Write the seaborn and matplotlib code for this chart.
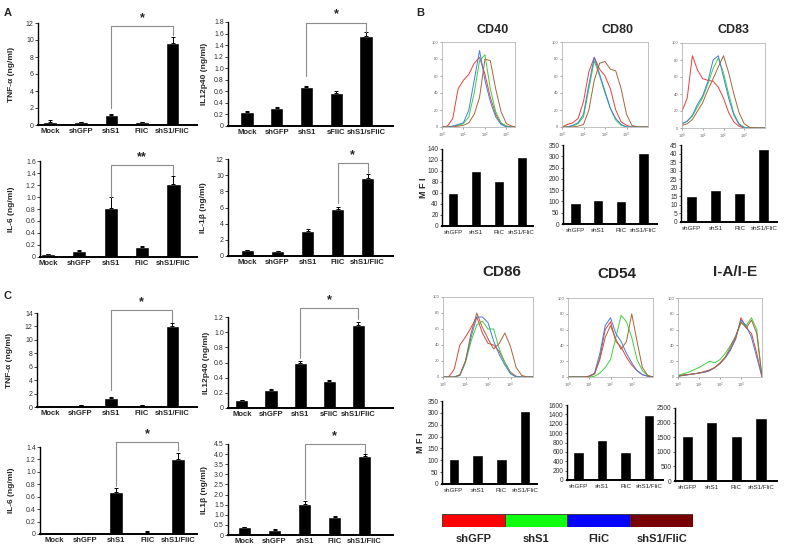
import numpy as np
import matplotlib
import matplotlib.pyplot as plt
import seaborn as sns

matplotlib.use('Agg')

# --- Figure size in pixels ---
W, H = 788, 549

# --- Cytokine bar data (panels A and C) ---
CYTO_CATS = ['Mock', 'shGFP', 'shS1', 'FliC', 'shS1/FliC']
CYTO_CATS_S = ['Mock', 'shGFP', 'shS1', 'sFliC', 'shS1/sFliC']
CYTO_CATS_C12 = ['Mock', 'shGFP', 'shS1', 'sFliC', 'shS1/FliC']

A_TNF = [0.3, 0.3, 1.2, 0.3, 9.7]
A_TNF_ERR = [0.3, 0.05, 0.1, 0.05, 0.7]
A_IL12 = [0.25, 0.32, 0.68, 0.57, 1.55]
A_IL12_ERR = [0.01, 0.01, 0.02, 0.03, 0.07]
A_IL6 = [0.05, 0.1, 0.82, 0.17, 1.22]
A_IL6_ERR = [0.005, 0.02, 0.18, 0.02, 0.13]
A_IL1B = [0.7, 0.6, 3.1, 5.8, 9.7]
A_IL1B_ERR = [0.02, 0.02, 0.2, 0.3, 0.4]

C_TNF = [0.2, 0.3, 1.4, 0.3, 12.1]
C_TNF_ERR = [0.02, 0.05, 0.1, 0.05, 0.4]
C_IL12 = [0.1, 0.24, 0.6, 0.35, 1.09]
C_IL12_ERR = [0.005, 0.01, 0.02, 0.02, 0.05]
C_IL6 = [0.02, 0.02, 0.67, 0.04, 1.2]
C_IL6_ERR = [0.002, 0.002, 0.07, 0.005, 0.1]
C_IL1B = [0.38, 0.25, 1.55, 0.9, 3.9]
C_IL1B_ERR = [0.01, 0.03, 0.12, 0.03, 0.1]

# --- MFI bar data (panel B) ---
MFI_CATS = ['shGFP', 'shS1', 'FliC', 'shS1/FliC']
CD40_MFI = [60, 100, 81, 125]
CD80_MFI = [95, 108, 100, 315]
CD83_MFI = [15, 18.5, 17, 42.5]
CD86_MFI = [105, 123, 107, 308]
CD54_MFI = [600, 860, 590, 1390]
IAIE_MFI = [1550, 2020, 1550, 2150]

# --- Flow histograms (% of max), read at log10 positions ---
X_DEC = [0, 0.25, 0.5, 0.75, 1.0, 1.25, 1.5, 1.75, 2.0, 2.25, 2.5, 2.75, 3.0, 3.25, 3.5, 3.75, 4.0]
# order of curves: shGFP (red), shS1 (green), FliC (blue), shS1/FliC (brown)
CD40_HIST = [
    [0, 1, 10, 45, 55, 62, 75, 82, 62, 35, 15, 4, 1, 0, 0, 0, 0],
    [0, 0, 1, 2, 4, 12, 40, 78, 85, 45, 18, 5, 1, 0, 0, 0, 0],
    [0, 0, 1, 3, 5, 20, 55, 90, 55, 30, 12, 3, 0, 0, 0, 0, 0],
    [0, 0, 0, 1, 2, 5, 15, 35, 80, 78, 45, 18, 4, 1, 0, 0, 0],
]
CD80_HIST = [
    [0, 3, 5, 10, 30, 65, 82, 68, 60, 45, 20, 6, 2, 0, 0, 0, 0],
    [0, 0, 1, 4, 12, 45, 78, 60, 40, 22, 8, 2, 0, 0, 0, 0, 0],
    [0, 0, 2, 5, 15, 50, 82, 62, 42, 22, 10, 3, 0, 0, 0, 0, 0],
    [0, 0, 0, 1, 3, 20, 55, 75, 77, 68, 66, 45, 15, 2, 0, 0, 0],
]
CD83_HIST = [
    [20, 35, 85, 68, 58, 56, 55, 48, 35, 18, 7, 2, 0, 0, 0, 0, 0],
    [5, 8, 14, 25, 36, 52, 70, 82, 65, 40, 17, 5, 1, 0, 0, 0, 0],
    [5, 8, 15, 28, 38, 55, 80, 85, 60, 35, 15, 4, 0, 0, 0, 0, 0],
    [3, 5, 10, 20, 30, 45, 58, 72, 85, 65, 40, 18, 5, 1, 0, 0, 0],
]
CD86_HIST = [
    [0, 0, 10, 40, 50, 62, 75, 55, 42, 40, 32, 18, 6, 1, 0, 0, 0],
    [0, 0, 0, 2, 18, 45, 65, 70, 60, 60, 35, 18, 5, 0, 0, 0, 0],
    [0, 0, 0, 2, 20, 50, 75, 75, 68, 45, 28, 15, 4, 0, 0, 0, 0],
    [0, 0, 0, 3, 20, 55, 80, 62, 48, 35, 42, 55, 38, 12, 2, 0, 0],
]
CD54_HIST = [
    [0, 0, 0, 0, 1, 4, 25, 60, 70, 45, 38, 25, 15, 8, 3, 1, 0],
    [0, 0, 0, 0, 0, 1, 5, 12, 22, 50, 78, 70, 50, 22, 8, 2, 0],
    [0, 0, 0, 0, 1, 5, 30, 65, 75, 55, 45, 30, 18, 8, 3, 1, 0],
    [0, 0, 0, 0, 1, 4, 22, 50, 65, 48, 35, 45, 80, 45, 12, 2, 0],
]
IAIE_HIST = [
    [1, 3, 3, 4, 5, 6, 8, 12, 18, 25, 35, 48, 75, 62, 55, 30, 0],
    [2, 4, 6, 9, 12, 16, 20, 18, 22, 30, 40, 52, 68, 65, 75, 60, 0],
    [1, 2, 3, 4, 5, 6, 8, 12, 17, 24, 34, 50, 72, 65, 50, 25, 0],
    [1, 2, 3, 4, 5, 7, 9, 12, 17, 25, 38, 52, 70, 62, 72, 55, 0],
]
HIST_COLORS = ['#f03c3c', '#3fd03f', '#3f7fe0', '#a8653a']
LEGEND_LABELS = ['shGFP', 'shS1', 'FliC', 'shS1/FliC']
LEGEND_COLORS = ['#ff0000', '#10ff10', '#0000ff', '#780000']

sns.set_style('white')
plt.rcParams['font.family'] = ['Liberation Sans', 'DejaVu Sans']


def px_rect(l, r, top, bot):
    return [l / W, 1 - bot / H, (r - l) / W, (bot - top) / H]


fig = plt.figure(figsize=(W / 100, H / 100), dpi=100)


def fmt_tick(v, step):
    if v == 0:
        return '0'
    return f'{v:.1f}' if step < 1 else f'{v:.0f}'


# --- Panels A and C: cytokine bars ---
cyto_panels = [
    (A_TNF, A_TNF_ERR, CYTO_CATS, 'TNF-α (ng/ml)', (38, 197, 23, 125), 12, 2, (-0.4, 4.8), (2, 4, 2.0, 10.6, 11.6, '*'), 15),
    (A_IL12, A_IL12_ERR, CYTO_CATS_S, 'IL12p40 (ng/ml)', (228, 393, 22, 126), 1.8, 0.2, (-0.63, 4.9), (2, 4, 0.86, 1.63, 1.79, '*'), 208),
    (A_IL6, A_IL6_ERR, CYTO_CATS, 'IL-6 (ng/ml)', (40, 197, 161, 257), 1.6, 0.2, (-0.25, 4.75), (2, 4, 1.0, 1.37, 1.53, '**'), 15),
    (A_IL1B, A_IL1B_ERR, CYTO_CATS, 'IL-1β (ng/ml)', (228, 393, 159, 256), 12, 2, (-0.65, 4.85), (3, 4, 6.6, 10.3, 11.5, '*'), 207),
    (C_TNF, C_TNF_ERR, CYTO_CATS, 'TNF-α (ng/ml)', (37, 197, 313, 407), 14, 2, (-0.42, 4.8), (2, 4, 2.5, 12.7, 14.4, '*'), 13),
    (C_IL12, C_IL12_ERR, CYTO_CATS_C12, 'IL12p40 (ng/ml)', (228, 393, 317, 408), 1.2, 0.2, (-0.48, 5.2), (2, 4, 0.66, 1.18, 1.32, '*'), 210),
    (C_IL6, C_IL6_ERR, CYTO_CATS, 'IL-6 (ng/ml)', (40, 197, 447, 534), 1.4, 0.2, (-0.45, 4.6), (2, 4, 0.77, 1.35, 1.48, '*'), 15),
    (C_IL1B, C_IL1B_ERR, CYTO_CATS, 'IL1β (ng/ml)', (228, 393, 444, 535), 4.5, 0.5, (-0.55, 4.95), (2, 4, 1.8, 4.05, 4.5, '*'), 208),
]

for vals, errs, cats, ylab, (l, r, t, b), ymax, ystep, xlim, br, ylab_px in cyto_panels:
    ax = fig.add_axes(px_rect(l, r, t, b))
    sns.barplot(x=cats, y=vals, color='black', width=0.45, saturation=1, ax=ax)
    pos = np.arange(len(cats))
    ax.errorbar(pos, vals, yerr=[np.zeros(len(vals)), errs], fmt='none',
                ecolor='black', elinewidth=0.7, capsize=1.5, capthick=0.7)
    ax.set_xlim(*xlim)
    ax.set_ylim(0, ymax)
    ticks = np.arange(0, ymax + ystep / 2, ystep)
    ax.set_yticks(ticks)
    ax.set_yticklabels([fmt_tick(v, ystep) for v in ticks], fontsize=5, color='#333333')
    ax.set_xticks(pos)
    ax.set_xticklabels(cats, fontsize=5.5, fontweight='bold')
    ax.tick_params(axis='x', length=0, pad=2)
    ax.tick_params(axis='y', length=2, width=0.6, pad=1, left=True)
    ax.set_ylabel(ylab, fontsize=6, fontweight='bold')
    ax.yaxis.set_label_coords((ylab_px - l) / (r - l), 0.5)
    ax.set_xlabel('')
    for s in ['top', 'right']:
        ax.spines[s].set_visible(False)
    ax.spines['left'].set_linewidth(1.0)
    ax.spines['bottom'].set_linewidth(1.4)
    ax.spines['left'].set_color('black')
    ax.spines['bottom'].set_color('black')
    i1, i2, yl, yr, yb, star = br
    ax.plot([i1, i1, i2, i2], [yl, yb, yb, yr], color='#8c8c8c', lw=0.8, clip_on=False)
    ax.text((i1 + i2) / 2, yb + ymax * 0.02, star, ha='center', va='bottom',
            fontsize=9, fontweight='bold', clip_on=False)

# --- Panel B: MFI bars ---
mfi_panels = [
    (CD40_MFI, (442, 533, 149, 226), 140, 20, (-0.5, 3.5), 'M F I', 428),
    (CD80_MFI, (563, 657, 145, 224), 350, 50, (-0.55, 3.6), None, None),
    (CD83_MFI, (681, 777, 145, 222), 45, 5, (-0.45, 3.55), None, None),
    (CD86_MFI, (442, 537, 401, 484), 350, 50, (-0.5, 3.5), 'M F I', 425),
    (CD54_MFI, (567, 663, 405, 480), 1600, 200, (-0.5, 3.6), None, None),
    (IAIE_MFI, (675, 777, 408, 481), 2500, 500, (-0.5, 3.65), None, None),
]

for vals, (l, r, t, b), ymax, ystep, xlim, ylab, ylab_px in mfi_panels:
    ax = fig.add_axes(px_rect(l, r, t, b))
    sns.barplot(x=MFI_CATS, y=vals, color='black', width=0.45, saturation=1, ax=ax)
    ax.set_xlim(*xlim)
    ax.set_ylim(0, ymax)
    ticks = np.arange(0, ymax + ystep / 2, ystep)
    ax.set_yticks(ticks)
    ax.set_yticklabels([f'{v:.0f}' for v in ticks], fontsize=4.8, color='#333333')
    ax.set_xticks(np.arange(len(MFI_CATS)))
    ax.set_xticklabels(MFI_CATS, fontsize=4.5)
    ax.tick_params(axis='x', length=0, pad=3)
    ax.tick_params(axis='y', length=1.5, width=0.5, pad=1, left=True)
    ax.set_xlabel('')
    if ylab:
        ax.set_ylabel(ylab, fontsize=6.5, fontweight='bold')
        ax.yaxis.set_label_coords((ylab_px - l) / (r - l), 0.5)
    else:
        ax.set_ylabel('')
    for s in ['top', 'right']:
        ax.spines[s].set_visible(False)
    ax.spines['left'].set_linewidth(1.0)
    ax.spines['bottom'].set_linewidth(1.4)
    ax.spines['left'].set_color('black')
    ax.spines['bottom'].set_color('black')

# --- Panel B: flow histograms ---
hist_panels = [
    (CD40_HIST, (442, 515, 42, 127), 3.4),
    (CD80_HIST, (562, 648, 42, 127), 4.0),
    (CD83_HIST, (682, 765, 43, 128), 4.0),
    (CD86_HIST, (443, 533, 297, 377), 4.0),
    (CD54_HIST, (568, 653, 298, 377), 4.0),
    (IAIE_HIST, (678, 762, 298, 377), 4.0),
]
xs = 10 ** np.array(X_DEC)
for curves, (l, r, t, b), xmax in hist_panels:
    ax = fig.add_axes(px_rect(l, r, t, b))
    for yv, c in zip(curves, HIST_COLORS):
        sns.lineplot(x=xs, y=yv, color=c, lw=0.7, ax=ax)
    ax.set_xscale('log')
    ax.set_xlim(1, 10 ** xmax)
    ax.set_ylim(0, 100)
    ax.set_xticks([1, 10, 100, 1000])
    ax.xaxis.set_minor_locator(matplotlib.ticker.NullLocator())
    ax.set_yticks(range(0, 101, 20))
    ax.tick_params(labelsize=3, length=1.5, width=0.4, pad=1, colors='#666666',
                   left=True, bottom=True)
    for s in ax.spines.values():
        s.set_color('#aaaaaa')
        s.set_linewidth(0.5)

# --- Colour legend bar ---
lax = fig.add_axes(px_rect(442, 693, 514, 527))
sns.barplot(x=LEGEND_LABELS, y=[1, 1, 1, 1], hue=LEGEND_LABELS, palette=LEGEND_COLORS,
            width=1.0, saturation=1, edgecolor='#333333', linewidth=0.6, legend=False, ax=lax)
lax.set_xlim(-0.5, 3.5)
lax.set_ylim(0, 1)
lax.set_yticks([])
lax.set_xlabel('')
lax.set_ylabel('')
lax.set_xticks(range(4))
lax.set_xticklabels(LEGEND_LABELS, fontsize=8, fontweight='bold')
lax.tick_params(axis='x', length=0, pad=5)
for s in lax.spines.values():
    s.set_visible(False)

# --- Titles and panel letters ---
for txt, x, y, fs in [('CD40', 493, 30, 9), ('CD80', 617, 30, 9), ('CD83', 733, 30, 9),
                      ('CD86', 502, 272, 11), ('CD54', 617, 274, 11), ('I-A/I-E', 735, 272, 11)]:
    fig.text(x / W, 1 - y / H, txt, ha='center', va='center', fontsize=fs, fontweight='bold')
for txt, x, y in [('A', 8, 13), ('B', 420, 13), ('C', 8, 296)]:
    fig.text(x / W, 1 - y / H, txt, ha='center', va='center', fontsize=8, fontweight='bold')

fig.savefig('out.png', dpi=100)
plt.close(fig)
